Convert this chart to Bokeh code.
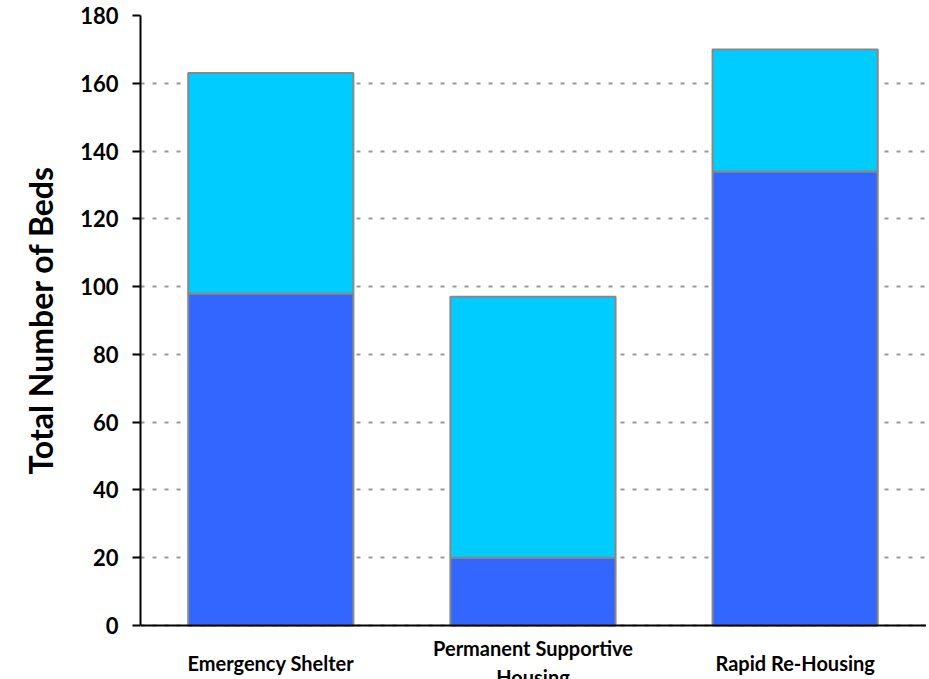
from bokeh.plotting import figure
from bokeh.models import Range1d, FixedTicker, ColumnDataSource, Span, Title
from bokeh.core.properties import value
from bokeh.embed import file_html
from bokeh.resources import INLINE

categories = ["Emergency Shelter", "Permanent Supportive\nHousing", "Rapid Re-Housing"]
series_bottom = [98, 20, 134]
series_top = [65, 77, 36]
y_ticks = [0, 20, 40, 60, 80, 100, 120, 140, 160, 180]

xpos = [i + 0.5 for i in range(len(categories))]
totals = [b + t for b, t in zip(series_bottom, series_top)]
LABEL_Y = -11.0  # category labels sit below the zero line

src = ColumnDataSource(dict(x=xpos, b=series_bottom, t=totals, zero=[0] * len(xpos),
                            name=categories, ly=[LABEL_Y] * len(xpos)))

FONT = "Lato"

p = figure(width=926, height=679, output_backend="svg", toolbar_location=None,
           x_range=Range1d(0.003, 3.001), y_range=Range1d(-15.93, 180),
           min_border_left=139, min_border_right=0, min_border_top=15, min_border_bottom=0)
p.outline_line_color = None
p.background_fill_color = "white"
p.border_fill_color = "white"

p.vbar(x="x", width=0.63, bottom="zero", top="b", source=src,
       fill_color="#3366FF", line_color="#888888", line_width=2)
p.vbar(x="x", width=0.63, bottom="b", top="t", source=src,
       fill_color="#00CCFF", line_color="#888888", line_width=2)

# category labels
p.text(x="x", y="ly", text="name", source=src, text_align="center",
       text_baseline="middle", text_font=value(FONT), text_font_style="bold",
       text_font_size="20px", text_color="black", text_line_height=1.2)

# grid
p.xgrid.grid_line_color = None
p.ygrid.ticker = FixedTicker(ticks=y_ticks)
p.ygrid.grid_line_color = "#999999"
p.ygrid.grid_line_width = 2
p.ygrid.grid_line_dash = "4 8"
p.ygrid.level = "underlay"

# zero line (category axis line)
p.add_layout(Span(location=0, dimension="width", line_color="black", line_width=2))

# y axis
p.yaxis.ticker = FixedTicker(ticks=y_ticks)
p.yaxis.bounds = (0, 180)
p.yaxis.axis_line_color = "black"
p.yaxis.axis_line_width = 2
p.yaxis.major_tick_line_width = 2
p.yaxis.major_tick_out = 8
p.yaxis.major_tick_in = 0
p.yaxis.minor_tick_line_color = None
p.yaxis.major_label_text_font = FONT
p.yaxis.major_label_text_font_style = "bold"
p.yaxis.major_label_text_font_size = "22px"
p.yaxis.major_label_text_color = "black"
p.yaxis.major_label_standoff = 14

p.add_layout(Title(text="Total Number of Beds", align="left", offset=205,
                   text_font=FONT, text_font_style="bold", text_font_size="32px",
                   text_color="black", standoff=36), "left")

p.xaxis.visible = False

open("out.html", "w").write(file_html(p, INLINE))
